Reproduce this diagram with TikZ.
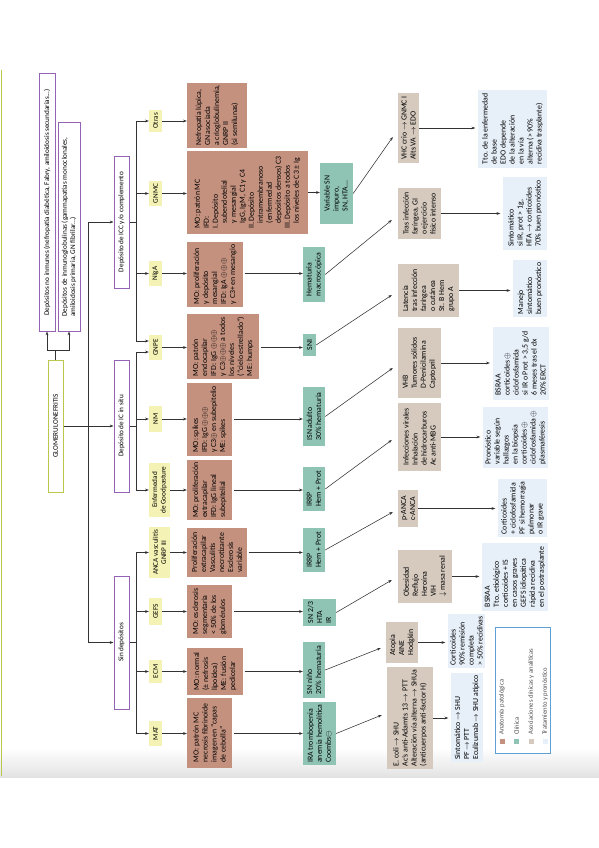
\documentclass[tikz,border=0pt]{standalone}
\usepackage{fontspec}
\setmainfont{Carlito}
\usetikzlibrary{arrows.meta,calc}
\definecolor{cbrown}{HTML}{C4917F}
\definecolor{cgreen}{HTML}{8FC4B5}
\definecolor{cbeige}{HTML}{D6CABF}
\definecolor{cblue}{HTML}{E7EFF8}
\definecolor{cyellow}{HTML}{F4F2B4}
\definecolor{cpurple}{HTML}{9563B5}
\definecolor{colive}{HTML}{B9C84C}
\definecolor{clegend}{HTML}{5E9FD6}
\definecolor{cline}{HTML}{333333}
\newcommand\opl{\ensuremath{{\oplus}}}
\newcommand\omn{\ensuremath{{\ominus}}}
\newcommand\myto{\ensuremath{\rightarrow}}
\newcommand\mydown{\ensuremath{\downarrow}}
\begin{document}
\begin{tikzpicture}[x=1pt,y=-1pt,
  sz/.style 2 args={minimum width=#1, minimum height=#2},
  bx/.style={rotate=90, inner xsep=2.5pt, inner ysep=2pt, align=left, font=\fontsize{7.8}{9}\selectfont, text=black},
  brownbox/.style={bx, fill=cbrown},
  greenbox/.style={bx, fill=cgreen},
  beigebox/.style={bx, fill=cbeige},
  bluebox/.style={bx, fill=cblue},
  yelbox/.style={bx, fill=cyellow, align=center, font=\fontsize{7.2}{8.4}\selectfont, inner sep=1pt},
  hdr/.style={bx, draw=cpurple, line width=1pt, fill=white, font=\fontsize{7.2}{8.3}\selectfont, inner sep=1.5pt},
  glombox/.style={hdr, draw=colive},
  lgt/.style={rotate=90, font=\fontsize{6.6}{8}\selectfont, text=black!70, inner sep=0pt},
  arr/.style={draw=cline, line width=0.55pt, -{Stealth[length=3.8pt,width=2.8pt]}},
  ln/.style={draw=cline, line width=0.55pt}]
\useasboundingbox (0,0) rectangle (599,848);
\fill[white] (0,0) rectangle (599,848);
\shade[top color=white, bottom color=black!11] (0,748) rectangle (599,777);
\draw[colive, line width=1.3pt] (1.5,70) -- (1.5,776);

% headers
\node[hdr, sz={257}{16}] (noinm) at (47,202.5) {Depósitos no inmunes (nefropatía diabética, Fabry, amiloidosis secundarias...)};
\node[hdr, sz={208}{22}] (inmg) at (69,227) {Depósitos de inmunoglobulinas (gammapatías monoclonales,\\amiloidosis primaria, GN fibrilar...)};
\node[glombox, sz={132}{15}] (glom) at (55.5,426) {GLOMERULONEFRITIS};
\node[hdr, sz={132}{15}] (icc) at (121.5,222) {Depósito de ICC y/o complemento};
\node[hdr, sz={132}{15}] (insitu) at (121.5,426) {Depósito de IC in situ};
\node[hdr, sz={133}{15}] (sind) at (121.5,642.5) {Sin depósitos};

% yellow
\node[yelbox, sz={22}{13}] (yotr) at (155.5,121) {Otras};
\node[yelbox, sz={25}{13}] (ygnmc) at (155.5,193.5) {GNMC};
\node[yelbox, sz={25}{13}] (yniga) at (155.5,273.5) {NIgA};
\node[yelbox, sz={25}{13}] (ygnpe) at (155.5,347.5) {GNPE};
\node[yelbox, sz={26}{13}] (ynm) at (155.5,419) {NM};
\node[yelbox, sz={54}{21}] (ygood) at (159.5,490) {Enfermedad\\de Goodpasture};
\node[yelbox, sz={51}{21}] (yanca) at (159.5,552.5) {ANCA vasculitis\\GNRP III};
\node[yelbox, sz={27}{13}] (ygefs) at (155.5,611.5) {GEFS};
\node[yelbox, sz={23}{13}] (yecm) at (155.5,671.5) {ECM};
\node[yelbox, sz={25}{13}] (ymat) at (155.5,733.5) {MAT};

% brown
\node[brownbox, sz={63}{60}] (b1) at (217,115.5) {Nefropatía lúpica,\\GN asociada\\a crioglobulinemia,\\GNRP II\\(si semilunas)};
\node[brownbox, sz={83}{121}] (b2) at (247.5,192.5) {MO: patrón MC\\IFD:\\I.\ Depósito\\\hspace*{0.7em}subendotelial\\\hspace*{0.7em}y mesangial\\\hspace*{0.7em}IgG, IgM, C1 y C4\\II.\ Depósito\\\hspace*{0.7em}intramembranoso\\\hspace*{0.7em}(enfermedad\\\hspace*{0.7em}depósitos densos) C3\\III.\ Depósito a todos\\\hspace*{0.7em}los niveles de C3 ± Ig};
\node[brownbox, sz={65}{56}] (b3) at (215,274.5) {MO: proliferación\\y depósito\\mesangial\\IFD: IgA \opl\opl\opl\\y C3+ en mesangio};
\node[brownbox, sz={61}{72}] (b4) at (223,346.5) {MO: patrón\\endocapilar\\IFD: IgG \opl\opl\opl\\y C3\opl\opl\opl{} a todos\\los niveles\\(“cielo estrellado”)\\ME: humps};
\node[brownbox, sz={73}{45}] (b5) at (209.5,419.5) {MO: spikes\\IFD: IgG \opl\opl\opl\\y C3\opl{} en subepitelio\\ME: spikes};
\node[brownbox, sz={56}{45}] (b6) at (209.5,490) {MO: proliferación\\extracapilar\\IFD: IgG lineal\\subepitelial};
\node[brownbox, sz={49}{60}] (b7) at (217,552.5) {Proliferación\\extracapilar\\Vasculitis\\necrotizante\\Esclerosis\\variable};
\node[brownbox, sz={53}{45}] (b8) at (209.5,611.5) {MO: esclerosis\\segmentaria\\< 50\% de los\\glomérulos};
\node[brownbox, sz={47}{56}] (b9) at (215,671.5) {MO: normal\\(± nefrosis\\lipoidea)\\ME: fusión\\pedicelar};
\node[brownbox, sz={70}{45}] (b10) at (209.5,733) {MO: patrón MC\\necrosis fibrinoide\\imagen en “capas\\de cebolla”};

% green
\node[greenbox, sz={61}{33}] (g1) at (336.5,193.5) {Variable SN\\impuro,\\SN, HTA...};
\node[greenbox, sz={55}{22}] (g2) at (314,274.5) {Hematuria\\macroscópica};
\node[greenbox, sz={22}{13}] (g3) at (309.5,345) {SNI};
\node[greenbox, sz={59}{22}] (g4) at (314,416.5) {ISN adulto\\30\% hematuria};
\node[greenbox, sz={44}{22}] (g5) at (314,489) {IRRP\\Hem + Prot};
\node[greenbox, sz={44}{22}] (g6) at (314,550) {IRRP\\Hem + Prot};
\node[greenbox, sz={27}{33}] (g7) at (319.5,612.5) {SN 2/3\\HTA\\IR};
\node[greenbox, sz={56}{22}] (g8) at (314,670) {SN niño\\20\% hematuria};
\node[greenbox, sz={59}{33}] (g9) at (319.5,733.5) {IRA trombopenia\\anemia hemolítica\\Coombs\omn};

% beige
\node[beigebox, sz={70}{21}] (r1) at (408.5,128) {VHC crio \myto{} GNMC I\\Alts VA \myto{} EDO};
\node[beigebox, sz={51}{43}] (r2) at (419.5,213.5) {Tras infección\\faríngea, GI\\o ejercicio\\físico intenso};
\node[beigebox, sz={53}{61}] (r3) at (428.5,290.5) {Latencia\\tras infección\\faríngea\\o cutánea\\St. B Hem\\grupo A};
\node[beigebox, sz={70}{43}] (r4) at (419.5,363) {VHB\\Tumores sólidos\\D-Penicilamina\\Captopril};
\node[beigebox, sz={68}{43}] (r5) at (419.5,437) {Infecciones virales\\Inhalación\\de hidrocarburos\\Ac anti-MBG};
\node[beigebox, sz={37}{20}] (r6) at (408,508.5) {p-ANCA\\c-ANCA};
\node[beigebox, sz={53}{54}] (r7) at (425,576.5) {Obesidad\\Reflujo\\Heroína\\VIH\\\mydown{} masa renal};
\node[beigebox, sz={41}{32}] (r8) at (402,642.5) {Atopia\\AINE\\Hodgkin};
\node[beigebox, sz={100}{46}] (r9) at (410,718) {E. coli \myto{} SHU\\Ac's anti-Adamts 13 \myto{} PTT\\Alteración vía alterna \myto{} SHUa\\(anticuerpos anti-factor H)};

% blue
\node[bluebox, sz={78}{69}] (l1) at (512.5,129) {Tto. de la enfermedad\\de base\\EDO depende\\de la alteración\\en la vía\\alterna (> 90\%\\recidiva trasplante)};
\node[bluebox, sz={73}{44}] (l2) at (525,213.5) {Sintomático\\si IR, prot > 1g,\\HTA \myto{} corticoides\\70\% buen pronóstico};
\node[bluebox, sz={57}{34}] (l3) at (530,288.5) {Manejo\\sintomático\\buen pronóstico};
\node[bluebox, sz={73}{56}] (l4) at (520.5,363.5) {BSRAA\\corticoides \opl\\ciclofosfamida\\si IR o Prot > 3,5 g/d\\6 meses tras el dx\\20\% ERCT};
\node[bluebox, sz={61}{65}] (l5) at (515.5,437.5) {Pronóstico\\variable según\\hallazgos\\en la biopsia\\corticoides \opl\\ciclofosfamida \opl\\plasmaféresis};
\node[bluebox, sz={56}{49}] (l6) at (522.5,508) {Corticoides\\+ ciclofosfamida\\PF si hemorragia\\pulmonar\\o IR grave};
\node[bluebox, sz={68}{66}] (l7) at (515,577) {BSRAA\\Tto. etiológico\\corticoides + IS\\en casos graves\\GEFS idiopática\\rápida recidiva\\en el postrasplante};
\node[bluebox, sz={52}{37}] (l8) at (466.5,641) {Corticoides\\90\% remisión\\completa\\> 50\% recidivas};
\node[bluebox, sz={85}{32}] (l9) at (467,717.5) {Sintomático \myto{} SHU\\PF \myto{} PTT\\Eculizumab \myto{} SHU atípico};

% legend
\node[draw=clegend, line width=0.9pt, fill=white, minimum width=55, minimum height=126, inner sep=0pt] (leg) at (522.5,690) {};
\node[fill=cbrown, minimum size=5, inner sep=0pt] (k1) at (502,741) {};
\node[fill=cgreen, minimum size=5, inner sep=0pt] (k2) at (516.5,741) {};
\node[fill=cbeige, minimum size=5, inner sep=0pt] (k3) at (531,741) {};
\node[fill=cblue, minimum size=5, inner sep=0pt] (k4) at (545,741) {};
\node[lgt, anchor=west] (t1) at (502,735) {Anatomía patológica};
\node[lgt, anchor=west] (t2) at (516.5,735) {Clínica};
\node[lgt, anchor=west] (t3) at (531,735) {Asociaciones clínicas y analíticas};
\node[lgt, anchor=west] (t4) at (545,735) {Tratamiento y pronóstico};

% tree connectors
\draw[ln] (glom.east) -- ++(0,-9) coordinate (fk);
\draw[arr] (fk) -| (noinm.west);
\draw[arr] (fk) -| (inmg.west);
\draw[arr] (glom.south) -- (insitu.north);
\path (glom.south) -- (insitu.north) coordinate[pos=0.5] (tj);
\draw[arr] (tj) |- (icc.north);
\draw[arr] (tj) |- (sind.north);
\draw[ln] (icc.south) -- ++(7,0) coordinate (bicc);
\draw[ln] (insitu.south) -- ++(7,0) coordinate (bins);
\draw[ln] (sind.south) -- ++(7,0) coordinate (bsin);
\draw[arr] (bicc) |- (yotr.north);
\draw[arr] (bicc) |- (ygnmc.north);
\draw[arr] (bicc) |- (yniga.north);
\draw[arr] (bicc) |- ($(ygnpe.north)+(0,-6.5)$);
\draw[arr] (bins) |- ($(ygnpe.north)+(0,4.5)$);
\draw[arr] (bins) |- (ynm.north);
\draw[arr] (bins) |- (ygood.north);
\draw[arr] (bsin) |- (yanca.north);
\draw[arr] (bsin) |- (ygefs.north);
\draw[arr] (bsin) |- (yecm.north);
\draw[arr] (bsin) |- (ymat.north);

% yellow -> brown
\foreach \y/\b in {yotr/b1,ygnmc/b2,yniga/b3,ygnpe/b4,ynm/b5,ygood/b6,yanca/b7,ygefs/b8,yecm/b9,ymat/b10}
  \draw[arr] (\y.south) -- (\y.south -| \b.north);

% brown -> green
\draw[arr] (b2.south) -- (b2.south -| g1.north);
\foreach \y/\b/\g in {yniga/b3/g2,ygnpe/b4/g3,ynm/b5/g4,ygood/b6/g5,yanca/b7/g6,ygefs/b8/g7,yecm/b9/g8,ymat/b10/g9}
  \draw[arr, shorten <=1.5pt] (\b.south |- \y.south) -- (\y.south -| \g.north);

% green -> beige (diagonals)
\draw[arr] (g1.south) -- ($(r1.north)+(-5,9)$);
\draw[arr] (g2.south) -- ($(r2.north)+(-6,6.5)$);
\draw[arr] (g3.south) -- ($(r3.north)+(-6,4.5)$);
\draw[arr] (g4.south) -- ($(r4.north)+(-5,5)$);
\draw[arr] (g5.south) -- ($(r5.north)+(-6,3)$);
\draw[arr] (g6.south) -- ($(r6.north)+(-5,3.5)$);
\draw[arr] (g7.south) -- ($(r7.north)+(-6,3.5)$);
\draw[arr] (g8.south) -- ($(r8.north)+(-5,5.5)$);
\draw[arr] (g9.south) -- ($(r9.north)+(-5,-3)$);

% beige -> blue
\foreach \r/\l in {r1/l1,r2/l2,r3/l3,r4/l4,r5/l5,r6/l6,r7/l7,r8/l8,r9/l9}
  \draw[arr, shorten >=2.5pt] (\r.south) -- (\r.south -| \l.north);
\end{tikzpicture}
\end{document}
